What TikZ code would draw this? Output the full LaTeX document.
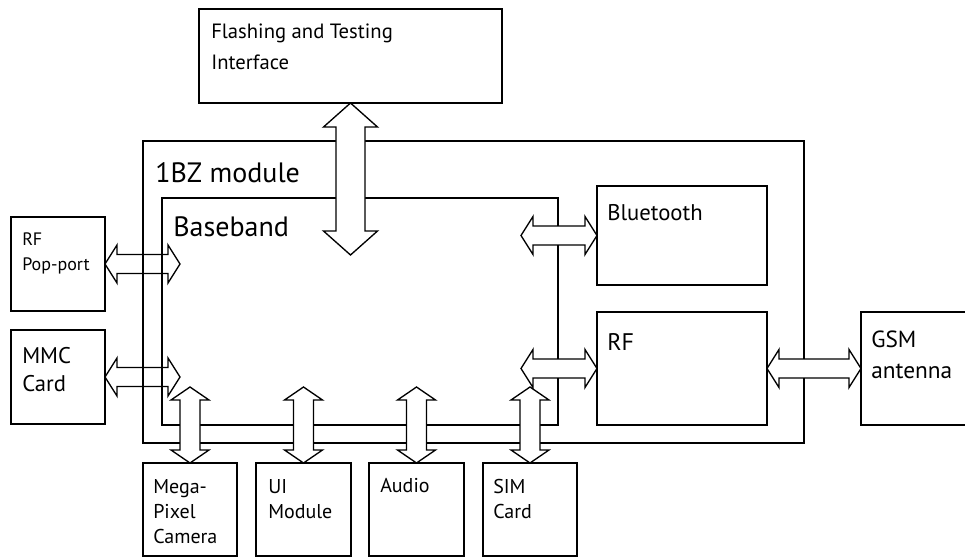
\documentclass[tikz,border=0pt]{standalone}
\usepackage{fontspec}
\setmainfont{PT Sans}
\usetikzlibrary{calc, fit}

\tikzset{
  box/.style={draw, line width=1pt, inner sep=0pt, outer sep=0pt},
  lbl/.style={anchor=north west, inner sep=0pt, align=left},
  arrw/.style={draw, line width=1pt, fill=white, line join=miter},
  arrwopen/.style={draw, line width=1pt, line join=miter},
}

% block arrow: [style]{from}{to}{shaft half}{head half}{head length}
\newcommand\dblarrow[6][arrw]{%
  \draw[#1] (#2)
    -- ($(#2)!#6!(#3)!#5!90:(#3)$)
    -- ($(#2)!#6!(#3)!#4!90:(#3)$)
    -- ($(#3)!#6!(#2)!#4!-90:(#2)$)
    -- ($(#3)!#6!(#2)!#5!-90:(#2)$)
    -- (#3)
    -- ($(#3)!#6!(#2)!#5!90:(#2)$)
    -- ($(#3)!#6!(#2)!#4!90:(#2)$)
    -- ($(#2)!#6!(#3)!#4!-90:(#3)$)
    -- ($(#2)!#6!(#3)!#5!-90:(#3)$)
    -- cycle;}

\begin{document}
\begin{tikzpicture}[x=0.75pt, y=-0.75pt]
  \clip (0,0) rectangle (965,557);

  % Modules:
  \node[box, fit={(143,141) (804,443)}] (modl) {};
  \node[box, fit={(162,198) (558,425)}] (bb) {};
  \node[lbl, font=\fontsize{21}{25}\selectfont] (modtxt) at (155,162) {1BZ module};
  \node[lbl, font=\fontsize{21}{25}\selectfont] (bbtxt) at (173,216) {Baseband};

  % Left side:
  \node[box, fit={(11,217) (105,311)}] (pop) {};
  \node[box, fit={(11,330) (105,424)}] (mmc) {};
  \node[lbl, font=\fontsize{13.5}{18.75}\selectfont] (poptxt) at (22,232.5) {RF\\Pop-port};
  \node[lbl, font=\fontsize{17}{21}\selectfont] (mmctxt) at (22,347) {MMC\\Card};
  \coordinate (popend) at (180,264);
  \coordinate (mmcend) at (180,377);
  \dblarrow[arrwopen]{pop.east}{popend}{7.1pt}{14.25pt}{9pt}
  \dblarrow[arrwopen]{mmc.east}{mmcend}{7.1pt}{14.25pt}{9pt}

  % Top:
  \node[box, fit={(199,9) (502,103)}] (flash) {};
  \node[lbl, font=\fontsize{15.5}{23.25}\selectfont] (flashtxt) at (211,24) {Flashing and Testing\\Interface};

  % Right side:
  \node[box, fit={(597,186) (767,285)}] (bt) {};
  \node[box, fit={(597,312) (767,425)}] (rf) {};
  \node[box, fit={(861,312) (1000,425)}] (gsm) {};
  \node[lbl, font=\fontsize{17}{21}\selectfont] (bttxt) at (607,204) {Bluetooth};
  \node[lbl, font=\fontsize{18}{22}\selectfont] (rftxt) at (607,333) {RF};
  \node[lbl, font=\fontsize{17.5}{23.25}\selectfont] (gsmtxt) at (871,331) {GSM\\antenna};

  % Bottom:
  \node[box, fit={(143,463) (237,556)}] (cam) {};
  \node[box, fit={(256,463) (351,556)}] (ui) {};
  \node[box, fit={(369,463) (464,556)}] (aud) {};
  \node[box, fit={(483,463) (577,556)}] (sim) {};
  \node[lbl, font=\fontsize{15}{18.75}\selectfont] (camtxt) at (153,479) {Mega-\\Pixel\\Camera};
  \node[lbl, font=\fontsize{15}{18.75}\selectfont] (uitxt) at (268,479) {UI\\Module};
  \node[lbl, font=\fontsize{15}{18.75}\selectfont] (audtxt) at (380,478) {Audio};
  \node[lbl, font=\fontsize{15}{18.75}\selectfont] (simtxt) at (493,479) {SIM\\Card};

  % Arrows:
  \coordinate (flashend) at (350.5,255);
  \coordinate (btend) at (521,235.5);
  \coordinate (rfend) at (521,368.5);
  \dblarrow{flash.south}{flashend}{10.9pt}{20.25pt}{18pt}
  \dblarrow{btend}{bt.west}{7.1pt}{14.25pt}{9pt}
  \dblarrow{rfend}{rf.west}{7.1pt}{14.25pt}{9pt}
  \dblarrow{rf.east}{gsm.west}{7.1pt}{14.25pt}{9pt}
  \foreach \b/\x in {cam/190, ui/303.5, aud/416.5, sim/530}{
    \dblarrow{\x,387}{\b.north}{7.5pt}{14.25pt}{9.75pt}
  }
\end{tikzpicture}
\end{document}
